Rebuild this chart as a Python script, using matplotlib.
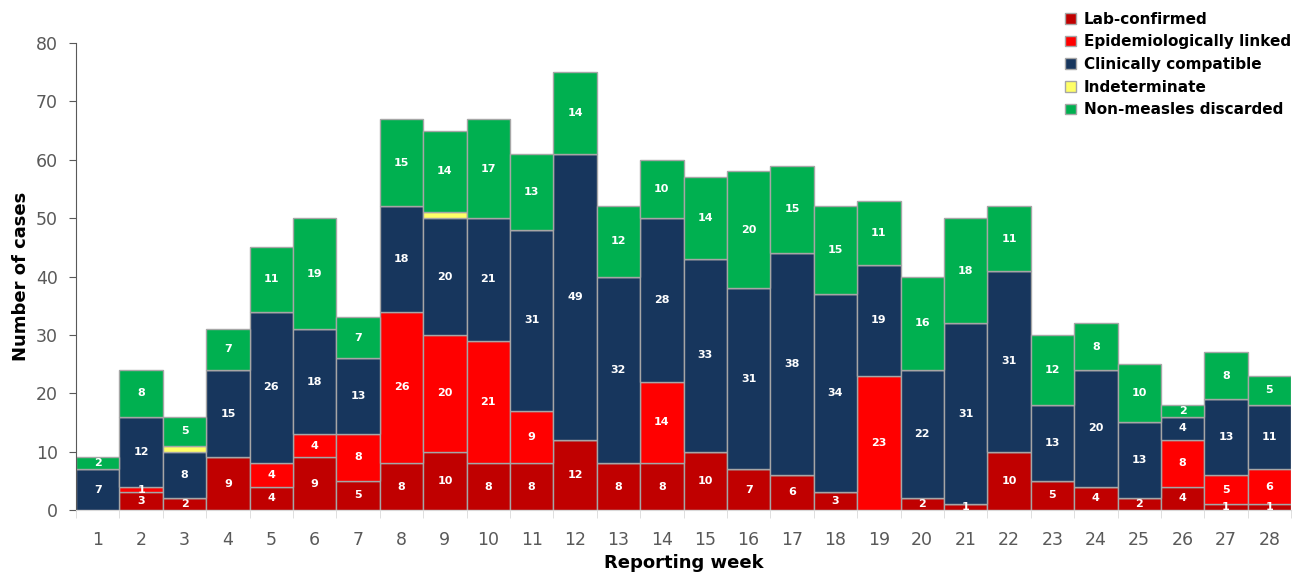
import numpy as np
from matplotlib import pyplot as plt

weeks = list(range(1, 29))
lab_confirmed = [0, 3, 2, 9, 4, 9, 5, 8, 10, 8, 8, 12, 8, 8, 10, 7, 6, 3, 0, 2, 1, 10, 5, 4, 2, 4, 1, 1]
epi_linked = [0, 1, 0, 0, 4, 4, 8, 26, 20, 21, 9, 0, 0, 14, 0, 0, 0, 0, 23, 0, 0, 0, 0, 0, 0, 8, 5, 6]
clinically = [7, 12, 8, 15, 26, 18, 13, 18, 20, 21, 31, 49, 32, 28, 33, 31, 38, 34, 19, 22, 31, 31, 13, 20, 13, 4, 13, 11]
indeterminate = [0, 0, 1, 0, 0, 0, 0, 0, 1, 0, 0, 0, 0, 0, 0, 0, 0, 0, 0, 0, 0, 0, 0, 0, 0, 0, 0, 0]
non_measles = [2, 8, 5, 7, 11, 19, 7, 15, 14, 17, 13, 14, 12, 10, 14, 20, 15, 15, 11, 16, 18, 11, 12, 8, 10, 2, 8, 5]

series = [
    ('Lab-confirmed', lab_confirmed, '#C00000', True),
    ('Epidemiologically linked', epi_linked, '#FF0000', True),
    ('Clinically compatible', clinically, '#17365D', True),
    ('Indeterminate', indeterminate, '#FFFF66', False),
    ('Non-measles discarded', non_measles, '#00B050', True),
]

fig = plt.figure(figsize=(12.95, 5.72), dpi=100)
ax = fig.add_axes([0.0587, 0.1084, 0.9383, 0.8164])

x = np.array(weeks)
bottom = np.zeros(len(weeks))
for name, vals, color, show in series:
    vals = np.array(vals)
    ax.bar(x, vals, width=1.0, bottom=bottom, color=color, edgecolor='#A6A6A6',
           linewidth=1.0, label=name)
    if show:
        for xi, b, v in zip(x, bottom, vals):
            if v > 0:
                ax.text(xi, b + v / 2, str(v), ha='center', va='center', color='white',
                        fontsize=8, fontweight='bold')
    bottom = bottom + vals

ax.set_xlim(0.5, 28.5)
ax.set_ylim(0, 80)
ax.set_yticks(range(0, 81, 10))
ax.set_xticks(x)
ax.set_xticks(np.arange(0.5, 28.6, 1), minor=True)
ax.tick_params(axis='x', which='major', length=0, pad=15, labelsize=12.5, labelcolor='#595959')
ax.tick_params(axis='x', which='minor', length=6, color='#D9D9D9')
ax.tick_params(axis='y', length=5, color='#595959', labelsize=12.5, labelcolor='#595959', pad=8)
for s in ['top', 'right']:
    ax.spines[s].set_visible(False)
ax.spines['left'].set_color('#595959')
ax.spines['bottom'].set_color('#D9D9D9')

ax.set_ylabel('Number of cases', fontsize=13, fontweight='bold')
ax.set_xlabel('Reporting week', fontsize=13, fontweight='bold', labelpad=4)

handles, labels = ax.get_legend_handles_labels()
fig.legend(handles, labels, loc='upper left', bbox_to_anchor=(0.818, 0.99), frameon=False,
           prop={'weight': 'bold', 'size': 11}, handlelength=0.7, handleheight=0.7,
           handletextpad=0.5, labelspacing=0.5, borderaxespad=0)

fig.savefig('out.png', dpi=100)
